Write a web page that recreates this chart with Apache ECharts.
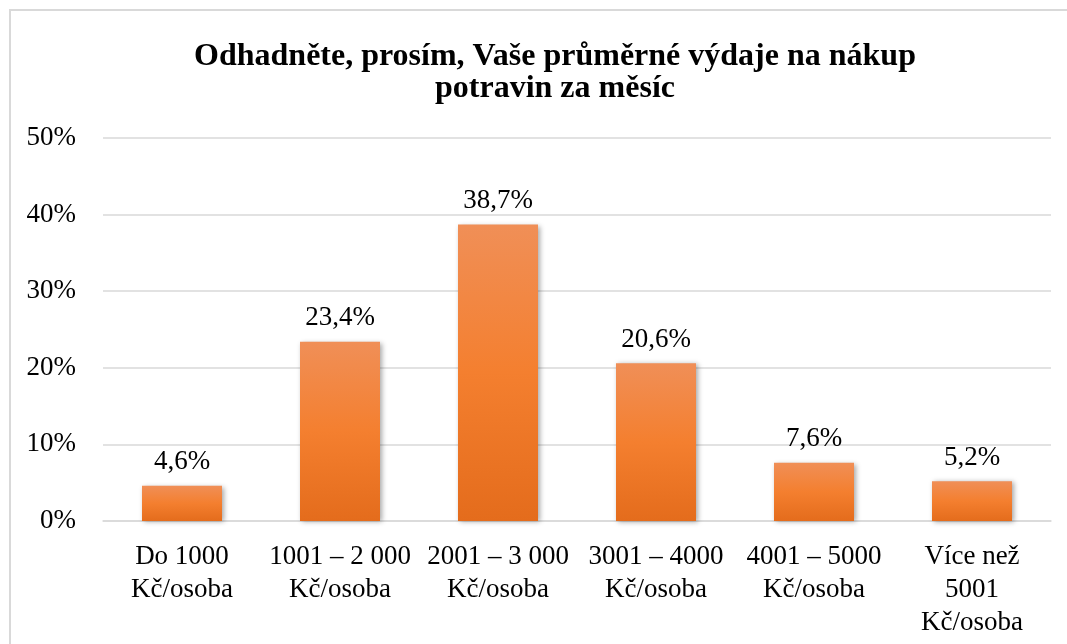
<!DOCTYPE html>
<html lang="cs">
<head>
    <meta charset="UTF-8">
    <title>Výdaje na nákup potravin</title>
    <script src="https://cdn.jsdelivr.net/npm/echarts@6/dist/echarts.min.js"></script>
    <style>
        html, body { margin: 0; padding: 0; background: #fff; }
    </style>
</head>
<body>
<div id="main" style="width: 1067px; height: 644px;"></div>
<script type="text/javascript">
    // data
    var categories = ['Do 1000\nKč/osoba', '1001 – 2 000\nKč/osoba', '2001 – 3 000\nKč/osoba',
        '3001 – 4000\nKč/osoba', '4001 – 5000\nKč/osoba', 'Více než\n5001\nKč/osoba'];
    var values = [4.6, 23.4, 38.7, 20.6, 7.6, 5.2];
    var yTicks = [0, 10, 20, 30, 40, 50];

    var serif = '"Liberation Serif", "DejaVu Serif", serif';

    var myChart = echarts.init(document.getElementById('main'));
    var option = {
        backgroundColor: '#fff',
        animation: false,
        title: {
            text: 'Odhadněte, prosím, Vaše průměrné výdaje na nákup\npotravin za měsíc',
            left: 550,
            textAlign: 'center',
            top: 36,
            textStyle: {
                fontFamily: serif,
                fontWeight: 'bold',
                fontSize: 32,
                lineHeight: 32,
                color: '#000'
            }
        },
        graphic: [{
            type: 'rect',
            shape: { x: 10, y: 10, width: 1080, height: 660 },
            style: { fill: 'none', stroke: '#d9d9d9', lineWidth: 2 },
            silent: true
        }],
        grid: { left: 103, right: 16, top: 138, bottom: 123 },
        xAxis: {
            type: 'category',
            data: categories,
            axisLine: { show: true, lineStyle: { color: '#d9d9d9', width: 1.5 } },
            axisTick: { show: false },
            axisLabel: {
                interval: 0,
                margin: 19,
                fontFamily: serif,
                fontSize: 27,
                lineHeight: 33,
                color: '#000'
            }
        },
        yAxis: {
            type: 'value',
            min: yTicks[0],
            max: yTicks[yTicks.length - 1],
            interval: 10,
            axisLine: { show: false },
            axisTick: { show: false },
            splitLine: { lineStyle: { color: '#d9d9d9', width: 1.5 } },
            axisLabel: {
                margin: 27,
                fontFamily: serif,
                fontSize: 27,
                color: '#000',
                formatter: '{value}%'
            }
        },
        series: [{
            type: 'bar',
            data: values,
            barWidth: 80,
            itemStyle: {
                color: new echarts.graphic.LinearGradient(0, 0, 0, 1, [
                    { offset: 0, color: '#f08f57' },
                    { offset: 0.5, color: '#f47f2f' },
                    { offset: 1, color: '#e46c1c' }
                ]),
                shadowColor: 'rgba(0,0,0,0.35)',
                shadowBlur: 5,
                shadowOffsetX: 2,
                shadowOffsetY: 1
            },
            label: {
                show: true,
                position: 'top',
                distance: 10,
                fontFamily: serif,
                fontSize: 27,
                color: '#000',
                formatter: function (p) {
                    return p.value.toFixed(1).replace('.', ',') + '%';
                }
            }
        }]
    };
    myChart.setOption(option);
</script>
</body>
</html>
